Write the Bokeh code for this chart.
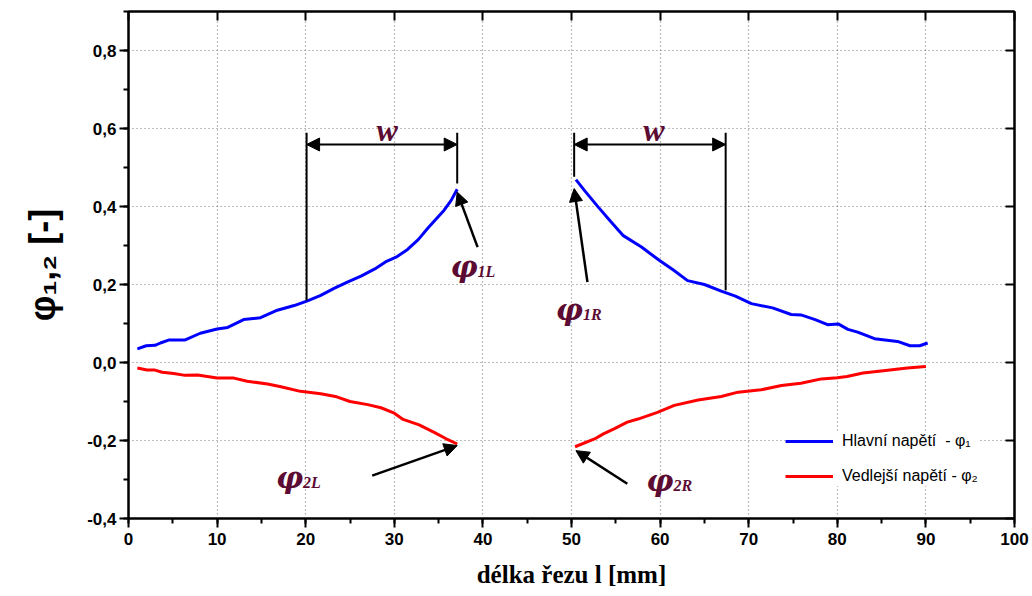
import math
from bokeh.plotting import figure
from bokeh.models import (ColumnDataSource, FixedTicker, CustomJSTickFormatter, LinearAxis,
                          Range1d, Arrow, NormalHead, Legend, LegendItem)
from bokeh.core.properties import value
from bokeh.embed import file_html
from bokeh.resources import INLINE

# ---- data ----
blue_left_x = [1.0, 2.0, 3.0, 3.6, 4.6, 6.4, 8.1, 10.0, 11.2, 13.0, 14.9, 16.8, 18.7, 20.2, 21.7,
               23.2, 24.7, 26.3, 27.8, 29.0, 30.2, 31.5, 32.7, 33.8, 34.8, 35.6, 36.4, 37.1]
blue_left_y = [0.035, 0.043, 0.044, 0.050, 0.058, 0.058, 0.075, 0.086, 0.090, 0.110, 0.115, 0.134,
               0.146, 0.158, 0.172, 0.190, 0.206, 0.222, 0.240, 0.258, 0.270, 0.290, 0.315, 0.345,
               0.370, 0.390, 0.415, 0.444]
blue_right_x = [50.5, 51.5, 53.0, 54.4, 55.8, 57.9, 59.9, 61.5, 63.1, 65.0, 66.9, 68.5, 70.3, 72.7,
                74.8, 75.9, 77.5, 78.9, 80.1, 81.2, 82.3, 84.2, 86.8, 88.2, 89.3, 90.2]
blue_right_y = [0.469, 0.440, 0.399, 0.362, 0.326, 0.296, 0.262, 0.237, 0.210, 0.200, 0.183, 0.170,
                0.151, 0.140, 0.123, 0.122, 0.110, 0.097, 0.099, 0.085, 0.078, 0.061, 0.054, 0.043,
                0.043, 0.050]
red_left_x = [1.0, 2.1, 2.9, 3.8, 5.1, 6.4, 7.8, 10.0, 11.9, 13.4, 15.7, 17.2, 19.4, 21.7, 23.5,
              25.0, 27.0, 28.5, 30.0, 31.0, 32.8, 34.5, 35.8, 37.1]
red_left_y = [-0.014, -0.019, -0.019, -0.025, -0.028, -0.033, -0.032, -0.040, -0.040, -0.048,
              -0.055, -0.062, -0.074, -0.080, -0.088, -0.100, -0.108, -0.116, -0.130, -0.146,
              -0.160, -0.179, -0.195, -0.209]
red_right_x = [50.4, 52.6, 53.6, 54.8, 56.3, 57.5, 59.7, 61.6, 64.3, 66.9, 68.8, 71.4, 73.7, 75.9,
               78.2, 80.0, 81.1, 82.9, 85.2, 87.9, 90.0]
red_right_y = [-0.216, -0.196, -0.183, -0.170, -0.153, -0.145, -0.128, -0.110, -0.096, -0.087,
               -0.076, -0.070, -0.059, -0.053, -0.042, -0.039, -0.036, -0.027, -0.021, -0.014,
               -0.010]

x_ticks = [0, 10, 20, 30, 40, 50, 60, 70, 80, 90, 100]
x_minor = [0, 5, 10, 15, 20, 25, 30, 35, 40, 45, 50, 55, 60, 65, 70, 75, 80, 85, 90, 95, 100]
y_ticks = [-0.4, -0.2, 0.0, 0.2, 0.4, 0.6, 0.8]
y_minor = [-0.4, -0.3, -0.2, -0.1, 0.0, 0.1, 0.2, 0.3, 0.4, 0.5, 0.6, 0.7, 0.8, 0.9]
x_grid = [10, 20, 30, 40, 50, 60, 70, 80, 90]

legend_labels = ["Hlavní napětí  - φ₁", "Vedlejší napětí - φ₂"]

# annotation anchors (w-zone markers, arrows, labels)
mark_x = [20.1, 37.1, 50.3, 67.4]
mark_y0 = [0.159, 0.459, 0.476, 0.185]
mark_y1 = [0.589, 0.589, 0.589, 0.589]
w_x0 = [20.1, 50.3]
w_x1 = [37.1, 67.4]
w_y = [0.559, 0.559]
w_text_x = [29.2, 59.3]
w_text_y = [0.595, 0.595]
arr_x0 = [39.4, 51.8, 27.5, 56.3]
arr_y0 = [0.296, 0.206, -0.290, -0.311]
arr_x1 = [37.1, 50.3, 37.1, 50.5]
arr_y1 = [0.437, 0.446, -0.213, -0.226]
phi_x = [39.4, 51.3, 19.7, 61.5]
phi_y = [0.246, 0.136, -0.295, -0.303]
phi_sub = ["1L", "1R", "2L", "2R"]

MAROON = "#5c0b32"

p = figure(width=1032, height=596, x_range=Range1d(0, 100), y_range=Range1d(-0.4, 0.9),
           output_backend="svg", toolbar_location=None,
           min_border_left=128, min_border_right=18, min_border_top=11, min_border_bottom=78)
p.background_fill_color = "white"
p.border_fill_color = "white"
p.outline_line_color = "black"
p.outline_line_width = 2

# axes
fmt = CustomJSTickFormatter(code="return tick.toFixed(1).replace('.', ',');")
p.xaxis.ticker = FixedTicker(ticks=x_ticks, minor_ticks=x_minor)
p.yaxis.ticker = FixedTicker(ticks=y_ticks, minor_ticks=y_minor)
p.yaxis.formatter = fmt
for ax in (p.xaxis[0], p.yaxis[0]):
    ax.axis_line_width = 2
    ax.axis_line_color = "black"
    ax.major_tick_line_width = 2
    ax.minor_tick_line_width = 2
    ax.major_tick_out = 9
    ax.major_tick_in = 0
    ax.minor_tick_out = 5
    ax.minor_tick_in = 0
    ax.major_label_text_font = "Liberation Sans"
    ax.major_label_text_font_style = "bold"
    ax.major_label_text_font_size = "17px"
    ax.major_label_text_color = "black"
    ax.axis_label_text_color = "black"
p.yaxis.major_label_standoff = 3
p.xaxis.major_label_standoff = 5

p.xaxis.axis_label = "délka řezu l [mm]"
p.xaxis.axis_label_text_font = "Liberation Serif"
p.xaxis.axis_label_text_font_style = "bold"
p.xaxis.axis_label_text_font_size = "25px"
p.xaxis.axis_label_standoff = 13
p.yaxis.axis_label = "φ₁,₂ [-]"
p.yaxis.axis_label_text_font = "Liberation Sans"
p.yaxis.axis_label_text_font_style = "bold"
p.yaxis.axis_label_text_font_size = "36px"
p.yaxis.axis_label_standoff = 21

empty = CustomJSTickFormatter(code="return '';")
top = LinearAxis(ticker=FixedTicker(ticks=x_ticks), formatter=empty, major_tick_in=9,
                 major_tick_out=0, minor_tick_line_color=None, axis_line_width=2,
                 major_tick_line_width=2, major_label_standoff=0)
right = LinearAxis(ticker=FixedTicker(ticks=y_ticks), formatter=empty, major_tick_in=9,
                   major_tick_out=0, minor_tick_line_color=None, axis_line_width=2,
                   major_tick_line_width=2, major_label_standoff=0)
p.add_layout(top, "above")
p.add_layout(right, "right")

# grid
p.xgrid.ticker = FixedTicker(ticks=x_grid)
p.ygrid.ticker = FixedTicker(ticks=y_ticks)
p.grid.grid_line_color = "#7a7a7a"
p.grid.grid_line_dash = "1 3"
p.grid.grid_line_width = 1.2

# series
blue_x = blue_left_x + [math.nan] + blue_right_x
blue_y = blue_left_y + [math.nan] + blue_right_y
red_x = red_left_x + [math.nan] + red_right_x
red_y = red_left_y + [math.nan] + red_right_y
rb = p.line(blue_x, blue_y, line_color="#0000ff", line_width=3)
rr = p.line(red_x, red_y, line_color="#ff0000", line_width=3)

# w-zone markers
p.segment(x0=mark_x, y0=mark_y0, x1=mark_x, y1=mark_y1, line_color="black", line_width=2)
wsrc = ColumnDataSource(dict(x0=w_x0, x1=w_x1, y=w_y))
p.add_layout(Arrow(start=NormalHead(size=13, fill_color="black", line_color="black"),
                   end=NormalHead(size=13, fill_color="black", line_color="black"),
                   x_start="x0", y_start="y", x_end="x1", y_end="y", source=wsrc,
                   line_width=2, line_color="black"))
p.text(x=w_text_x, y=w_text_y, text=["w", "w"], text_font=value("Liberation Serif"),
       text_font_style="bold italic", text_font_size="32px", text_color=MAROON,
       text_align="center", text_baseline="middle")

# phi arrows
asrc = ColumnDataSource(dict(x0=arr_x0, y0=arr_y0, x1=arr_x1, y1=arr_y1))
p.add_layout(Arrow(end=NormalHead(size=13, fill_color="black", line_color="black"),
                   x_start="x0", y_start="y0", x_end="x1", y_end="y1", source=asrc,
                   line_width=2.5, line_color="black"))
p.text(x=phi_x, y=phi_y, text=["φ"] * 4, text_font=value("DejaVu Serif"),
       text_font_style="bold italic", text_font_size="30px", text_color=MAROON,
       text_align="right", text_baseline="middle")
p.text(x=phi_x, y=phi_y, text=phi_sub, text_font=value("Liberation Serif"),
       text_font_style="bold italic", text_font_size="16px", text_color=MAROON,
       text_align="left", text_baseline="middle", y_offset=5)

# legend
legend = Legend(items=[LegendItem(label=legend_labels[0], renderers=[rb]),
                       LegendItem(label=legend_labels[1], renderers=[rr])],
                location=(657, 32), padding=10, spacing=15, glyph_width=48, glyph_height=20,
                label_height=20, label_standoff=9, margin=0,
                border_line_color=None, background_fill_color="white", background_fill_alpha=1,
                label_text_font="Liberation Sans", label_text_font_size="16px",
                label_text_color="black")
p.add_layout(legend)

open("out.html", "w").write(file_html(p, INLINE))
